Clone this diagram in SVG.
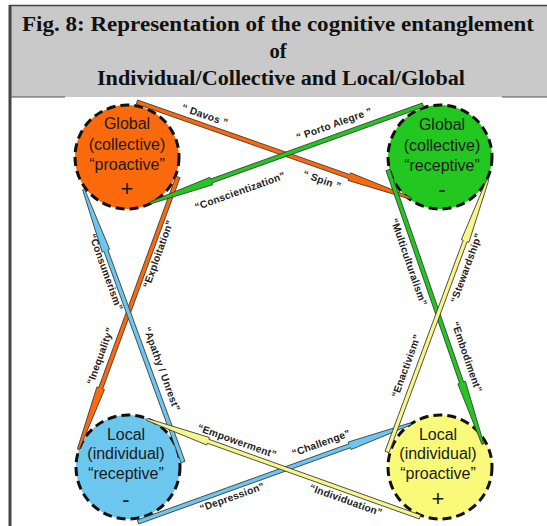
<svg xmlns="http://www.w3.org/2000/svg" width="547" height="526" viewBox="0 0 547 526">
<style>
.hd{font-family:"Liberation Serif","Times New Roman",serif;font-weight:bold;font-size:20.5px;fill:#111;text-anchor:middle}
.nd{font-family:"Liberation Sans",Arial,sans-serif;font-size:16px;fill:#1a1a1a;text-anchor:middle}
.sg{font-family:"Liberation Sans",Arial,sans-serif;font-size:22px;fill:#1a1a1a;text-anchor:middle}
.lb{font-family:"Liberation Sans",Arial,sans-serif;font-size:10.2px;font-weight:bold;fill:#222;text-anchor:middle;letter-spacing:0.2px}
.ring{stroke:#111;stroke-width:3;stroke-dasharray:9 5}
.ar{stroke:#3a3a3a;stroke-width:0.8;stroke-linejoin:miter}
</style>
<defs>
<polygon id="arw" points="0,-2.1 225,-2.1 225,-4 290,-1 290,1 225,4 225,2.1 0,2.1"/>
</defs>
<rect x="0" y="0" width="547" height="526" fill="#ffffff"/>
<g id="header">
<rect x="9" y="5" width="540" height="92" fill="#c9c9c9"/>
<line x1="9" y1="5.5" x2="547" y2="5.5" stroke="#444" stroke-width="1.5"/>
<line x1="10" y1="5" x2="10" y2="526" stroke="#444" stroke-width="3"/>
<line x1="10" y1="97" x2="65" y2="97" stroke="#555" stroke-width="1.2"/>
<line x1="502" y1="97" x2="547" y2="97" stroke="#555" stroke-width="1.2"/>
<text class="hd" x="278" y="31" textLength="512" lengthAdjust="spacingAndGlyphs">Fig. 8: Representation of the cognitive entanglement</text>
<text class="hd" x="278" y="58">of</text>
<text class="hd" x="281" y="85" textLength="368" lengthAdjust="spacingAndGlyphs">Individual/Collective and Local/Global</text>
</g>
<g id="node-global-proactive">
<circle class="ring" cx="127" cy="157" r="52" fill="#fa6a0c"/>
<text class="nd" x="127" y="129">Global</text>
<text class="nd" x="127" y="150">(collective)</text>
<text class="nd" x="127" y="170">“proactive”</text>
<text class="sg" x="127" y="196">+</text>
</g>
<g id="node-global-receptive">
<circle class="ring" cx="440" cy="157" r="52" fill="#22c820"/>
<text class="nd" x="442" y="130">Global</text>
<text class="nd" x="442" y="151">(collective)</text>
<text class="nd" x="442" y="171">“receptive”</text>
<text class="sg" x="442" y="197">-</text>
</g>
<g id="node-local-receptive">
<circle class="ring" cx="128" cy="467" r="52" fill="#6cc7ef"/>
<text class="nd" x="126" y="440">Local</text>
<text class="nd" x="126" y="459">(individual)</text>
<text class="nd" x="126" y="479">“receptive”</text>
<text class="sg" x="126" y="507">-</text>
</g>
<g id="node-local-proactive">
<circle class="ring" cx="440" cy="467" r="52" fill="#f9f97a"/>
<text class="nd" x="438" y="440">Local</text>
<text class="nd" x="438" y="459">(individual)</text>
<text class="nd" x="438" y="479">“proactive”</text>
<text class="sg" x="438" y="506">+</text>
</g>
<g id="connectors">
<use href="#arw" class="ar" fill="#fa6a0c" transform="translate(137,102) rotate(19.37)"/>
<use href="#arw" class="ar" fill="#fa6a0c" transform="translate(178,177) rotate(110.1)"/>
<use href="#arw" class="ar" fill="#22c820" transform="translate(423,105) rotate(160.25)"/>
<use href="#arw" class="ar" fill="#22c820" transform="translate(388,170) rotate(70.9)"/>
<use href="#arw" class="ar" fill="#6cc7ef" transform="translate(183,462) rotate(-110.04)"/>
<use href="#arw" class="ar" fill="#6cc7ef" transform="translate(138,522) rotate(-19.8)"/>
<use href="#arw" class="ar" fill="#f6f68a" transform="translate(420,517) rotate(-160.33)"/>
<use href="#arw" class="ar" fill="#f6f68a" transform="translate(387,452) rotate(-69.68)"/>
</g>
<g id="labels">
<text class="lb" transform="translate(205,115) rotate(19.4)" dy="0.35em">“ Davos ”</text>
<text class="lb" transform="translate(322,180) rotate(19.4)" dy="0.35em">“ Spin ”</text>
<text class="lb" transform="translate(334,124) rotate(-19.7)" dy="0.35em">“ Porto Alegre ”</text>
<text class="lb" transform="translate(240,191) rotate(-19.7)" dy="0.35em">“Conscientization”</text>
<text class="lb" transform="translate(106,272) rotate(70)" dy="0.35em">“Consumerism”</text>
<text class="lb" transform="translate(162,369) rotate(70)" dy="0.35em">“Apathy / Unrest”</text>
<text class="lb" transform="translate(158,254) rotate(-70)" dy="0.35em">“Exploitation”</text>
<text class="lb" transform="translate(100,356) rotate(-70)" dy="0.35em">“Inequality”</text>
<text class="lb" transform="translate(409,262) rotate(70.9)" dy="0.35em">“Multiculturalism”</text>
<text class="lb" transform="translate(467,357) rotate(70.9)" dy="0.35em">“Embodiment”</text>
<text class="lb" transform="translate(466,268) rotate(-69.7)" dy="0.35em">“Stewardship”</text>
<text class="lb" transform="translate(406,366) rotate(-69.7)" dy="0.35em">“Enactivism”</text>
<text class="lb" transform="translate(237,441) rotate(19.7)" dy="0.35em">“Empowerment”</text>
<text class="lb" transform="translate(346,500) rotate(19.7)" dy="0.35em">“Individuation”</text>
<text class="lb" transform="translate(321,443) rotate(-19.8)" dy="0.35em">“Challenge”</text>
<text class="lb" transform="translate(232,497) rotate(-19.8)" dy="0.35em">“Depression”</text>
</g>
</svg>
